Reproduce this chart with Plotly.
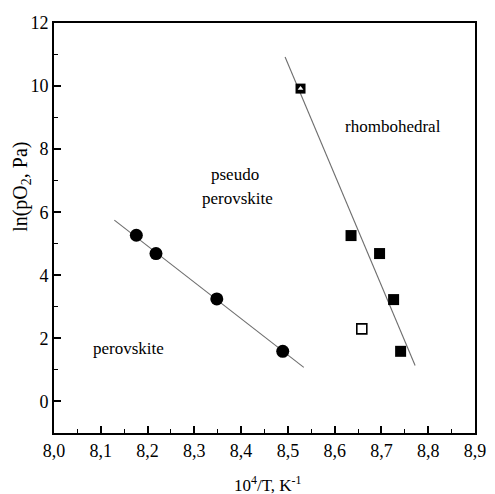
import plotly.graph_objects as go

# Perovskite / pseudo-perovskite boundary (filled circles)
circle_x = [8.176, 8.218, 8.348, 8.489]
circle_y = [5.27, 4.69, 3.25, 1.59]

# Pseudo-perovskite / rhombohedral boundary (filled squares)
square_x = [8.635, 8.696, 8.726, 8.741]
square_y = [5.26, 4.69, 3.23, 1.59]

# Open square
open_x = [8.658]
open_y = [2.30]

# Square with triangle inside
tri_x = [8.527]
tri_y = [9.92]

# Guide lines through each data set
fit1_x = [8.129, 8.534]
fit1_y = [5.75, 1.08]
fit2_x = [8.494, 8.772]
fit2_y = [10.92, 1.14]

x_ticks = [8.0, 8.1, 8.2, 8.3, 8.4, 8.5, 8.6, 8.7, 8.8, 8.9]
y_ticks = [0, 2, 4, 6, 8, 10, 12]

FONT = "Liberation Serif, Times New Roman, serif"
W, H = 495, 494
ML, MR, MT, MB = 54, 9, 23, 61
PW, PH = W - ML - MR, H - MT - MB

fig = go.Figure()

line_style = dict(color="#6e6e6e", width=1.1)
fig.add_trace(go.Scatter(x=fit1_x, y=fit1_y, mode="lines", line=line_style,
                         hoverinfo="skip", showlegend=False))
fig.add_trace(go.Scatter(x=fit2_x, y=fit2_y, mode="lines", line=line_style,
                         hoverinfo="skip", showlegend=False))

fig.add_trace(go.Scatter(x=circle_x, y=circle_y, mode="markers",
                         marker=dict(symbol="circle", size=13, color="black",
                                     line=dict(width=0)),
                         showlegend=False))
fig.add_trace(go.Scatter(x=square_x, y=square_y, mode="markers",
                         marker=dict(symbol="square", size=11, color="black",
                                     line=dict(width=0)),
                         showlegend=False))
fig.add_trace(go.Scatter(x=open_x, y=open_y, mode="markers",
                         marker=dict(symbol="square-open", size=10, color="black",
                                     line=dict(width=1.6)),
                         showlegend=False))
fig.add_trace(go.Scatter(x=tri_x, y=tri_y, mode="markers",
                         marker=dict(symbol="square", size=10, color="black",
                                     line=dict(width=0)),
                         showlegend=False))
fig.add_trace(go.Scatter(x=tri_x, y=tri_y, mode="markers",
                         marker=dict(symbol="triangle-up", size=5, color="white",
                                     line=dict(width=0)),
                         showlegend=False))

text_font = dict(family=FONT, size=17, color="black")
labels = [
    (8.725, 8.73, "rhombohedral"),
    (8.386, 7.2, "pseudo"),
    (8.392, 6.42, "perovskite"),
    (8.159, 1.69, "perovskite"),
]
for lx, ly, lt in labels:
    fig.add_annotation(x=lx, y=ly, text=lt, showarrow=False, font=text_font,
                       xref="x", yref="y")


def px_x(p):
    return (p - ML) / PW


def px_y(p):
    return 1 - (p - MT) / PH


# Axis titles
fig.add_annotation(x=px_x(20), y=px_y(187), xref="paper", yref="paper",
                   text="ln(pO<sub>2</sub>, Pa)", showarrow=False, textangle=-90,
                   xanchor="center", yanchor="middle",
                   font=dict(family=FONT, size=20, color="black"))
fig.add_annotation(x=px_x(274), y=px_y(484), xref="paper", yref="paper",
                   text="10<sup>4</sup>/T, K<sup>-1</sup>", showarrow=False,
                   xanchor="center", yanchor="middle",
                   font=dict(family=FONT, size=17, color="black"))

axis_common = dict(
    showgrid=False, zeroline=False, showline=True, linecolor="black", linewidth=2,
    mirror=True, ticks="inside", tickcolor="black", tickwidth=1.5, ticklen=7,
    tickfont=dict(family=FONT, size=18, color="black"),
    ticklabeloverflow="allow",
)

fig.update_xaxes(range=[8.0, 8.9], tickvals=x_ticks, tickformat=".1f",
                 minor=dict(ticks="inside", dtick=0.05, tick0=8.0, ticklen=4,
                            tickcolor="black", tickwidth=1.2, showgrid=False),
                 **axis_common)
fig.update_yaxes(range=[-1, 12], tickvals=y_ticks, tickformat="d",
                 minor=dict(ticks="inside", dtick=1, tick0=0, ticklen=4,
                            tickcolor="black", tickwidth=1.2, showgrid=False),
                 **axis_common)

fig.update_layout(
    width=W, height=H,
    margin=dict(l=ML, r=MR, t=MT, b=MB),
    paper_bgcolor="white", plot_bgcolor="white",
    separators=",.",
    font=dict(family=FONT, color="black"),
)

fig.write_html("out.html")
